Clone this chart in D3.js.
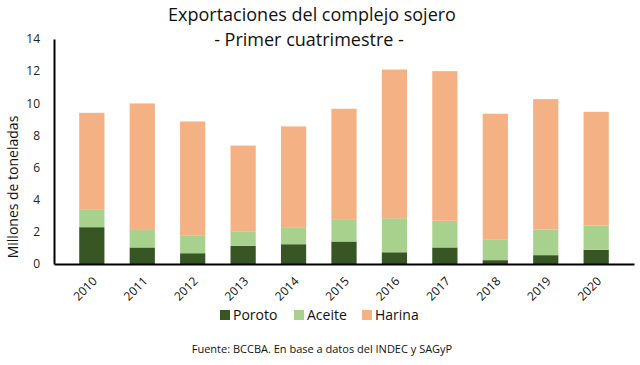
<!DOCTYPE html>
<html>
<head>
<meta charset="utf-8">
<script src="https://cdn.jsdelivr.net/npm/d3@7"></script>
<style>
  body { margin: 0; background: #fff; }
  svg { display: block; font-family: 'Open Sans', sans-serif; }
</style>
</head>
<body>
<div class="svg-container"></div>
<script>
const w = 640;
const h = 365;

// datos (millones de toneladas)
const years = ['2010', '2011', '2012', '2013', '2014', '2015', '2016', '2017', '2018', '2019', '2020'];
const poroto = [2.29, 1.03, 0.67, 1.13, 1.23, 1.4, 0.73, 1.03, 0.24, 0.55, 0.88];
const aceite = [1.08, 1.14, 1.12, 0.91, 1.06, 1.39, 2.12, 1.66, 1.3, 1.6, 1.52];
const harina = [6.04, 7.82, 7.08, 5.33, 6.27, 6.87, 9.25, 9.31, 7.81, 8.11, 7.07];
const yTicks = [0, 2, 4, 6, 8, 10, 12, 14];

const seriesNames = ['Poroto', 'Aceite', 'Harina'];
const colors = ['#375623', '#a9d18e', '#f4b183'];

const rows = years.map((y, i) => ({year: y, Poroto: poroto[i], Aceite: aceite[i], Harina: harina[i]}));
const stacked = d3.stack().keys(seriesNames)(rows);

const svg = d3
	.select('.svg-container')
	.append('svg')
	.attr('width', w)
	.attr('height', h)
	.style('background-color', '#fff');

const xScale = d3.scaleBand().domain(years).range([54, 634]).padding(0.5);
const yScale = d3.scaleLinear().domain([0, 14]).range([264, 39]);

svg
	.append('g')
	.selectAll('g')
	.data(stacked)
	.enter()
	.append('g')
	.attr('fill', (d, i) => colors[i])
	.selectAll('rect')
	.data(d => d)
	.enter()
	.append('rect')
	.attr('x', d => xScale(d.data.year))
	.attr('y', d => yScale(d[1]))
	.attr('width', xScale.bandwidth())
	.attr('height', d => yScale(d[0]) - yScale(d[1]));

// ejes
const yAxis = d3.axisLeft(yScale).tickValues(yTicks).tickSize(0).tickPadding(14);
const gy = svg.append('g').attr('transform', 'translate(54, 0)').call(yAxis);
gy.select('.domain').attr('stroke', '#000').attr('stroke-width', 2);
gy.selectAll('text').style('font-size', '12px').style('font-family', 'Open Sans').attr('fill', '#222');

const xAxis = d3.axisBottom(xScale).tickSize(0);
const gx = svg.append('g').attr('transform', 'translate(0, 264)').call(xAxis);
gx.select('.domain').attr('stroke', '#000').attr('stroke-width', 2);
gx.selectAll('text')
	.style('font-size', '12px')
	.style('font-family', 'Open Sans')
	.attr('fill', '#111')
	.style('text-anchor', 'end')
	.attr('y', 0)
	.attr('dy', '0.35em')
	.attr('transform', 'translate(3, 15) rotate(-45)');

// titulo
svg
	.append('text')
	.attr('x', 312)
	.attr('y', 21)
	.style('text-anchor', 'middle')
	.style('font-size', '18px')
	.attr('fill', '#111')
	.text('Exportaciones del complejo sojero');

svg
	.append('text')
	.attr('x', 309)
	.attr('y', 46)
	.style('text-anchor', 'middle')
	.style('font-size', '18px')
	.attr('fill', '#111')
	.text('- Primer cuatrimestre -');

svg
	.append('text')
	.attr('transform', 'translate(18, 187) rotate(-90)')
	.style('text-anchor', 'middle')
	.style('font-size', '14px')
	.attr('fill', '#111')
	.text('Millones de toneladas');

// leyenda
const legendX = [220, 294, 362];
const legend = svg.append('g').attr('id', 'legend');
seriesNames.forEach((name, i) => {
	const g = legend.append('g').attr('transform', `translate(${legendX[i]}, 310)`);
	g.append('rect').attr('width', 10).attr('height', 10).attr('fill', colors[i]);
	g.append('text')
		.attr('x', 13)
		.attr('y', 10)
		.style('font-size', '14px')
		.attr('fill', '#111')
		.text(name);
});

svg
	.append('text')
	.attr('x', 322)
	.attr('y', 353)
	.style('text-anchor', 'middle')
	.style('font-size', '11px')
	.attr('fill', '#111')
	.text('Fuente: BCCBA. En base a datos del INDEC y SAGyP');
</script>
</body>
</html>
